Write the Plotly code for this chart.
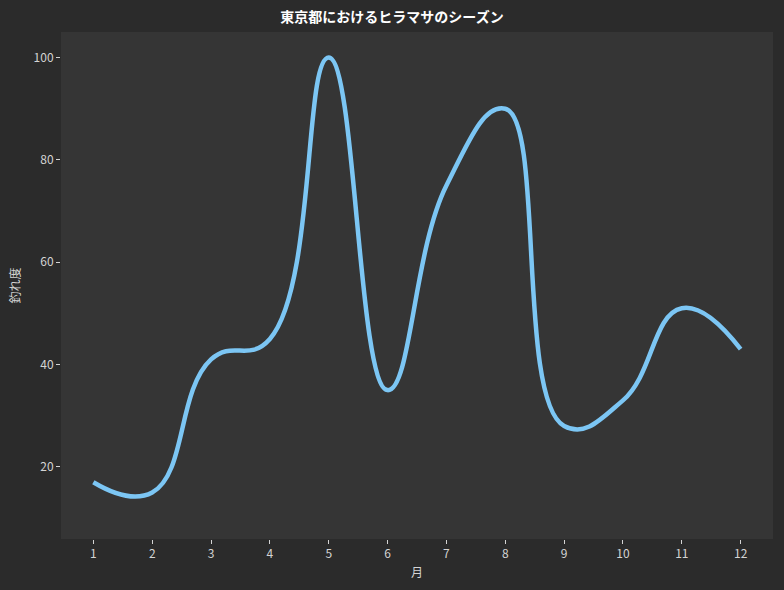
import plotly.graph_objects as go

# 月ごとの釣れ度
months = [1, 2, 3, 4, 5, 6, 7, 8, 9, 10, 11, 12]
catch_rate = [17, 15, 41, 45, 100, 35, 75, 90, 28, 33, 51, 43]
y_ticks = [20, 40, 60, 80, 100]

font_name = "Noto Sans CJK JP"

fig = go.Figure()
fig.add_trace(go.Scatter(
    x=months, y=catch_rate,
    mode="lines",
    line=dict(color="#7cc6f4", width=4.5, shape="spline", smoothing=1.3),
    showlegend=False,
))

fig.update_layout(
    width=784, height=590,
    paper_bgcolor="#2b2b2b",
    plot_bgcolor="#353535",
    margin=dict(l=61, r=11, t=32, b=51),
    font=dict(family=font_name, color="#d4d4d4", size=12),
    title=dict(text="<b>東京都におけるヒラマサのシーズン</b>", x=0.5, xanchor="center",
               y=0.971, yanchor="middle",
               font=dict(family=font_name, size=14, color="#ffffff")),
)
fig.update_xaxes(
    range=[0.45, 12.55], tickvals=months, showgrid=False, zeroline=False,
    ticks="outside", ticklen=4, tickcolor="#d4d4d4", showline=False,
    title=dict(text="月", font=dict(size=12, color="#d4d4d4"), standoff=8),
)
fig.update_yaxes(
    range=[5.9, 105], tickvals=y_ticks, showgrid=False, zeroline=False,
    ticks="outside", ticklen=4, tickcolor="#d4d4d4", showline=False,
    title=dict(text="釣れ度", font=dict(size=12, color="#d4d4d4"), standoff=10),
)

# ページの余白を消し、ツールバーは出さない
fig.write_html("out.html", config={"displayModeBar": False},
               post_script="document.body.style.margin='0';")
